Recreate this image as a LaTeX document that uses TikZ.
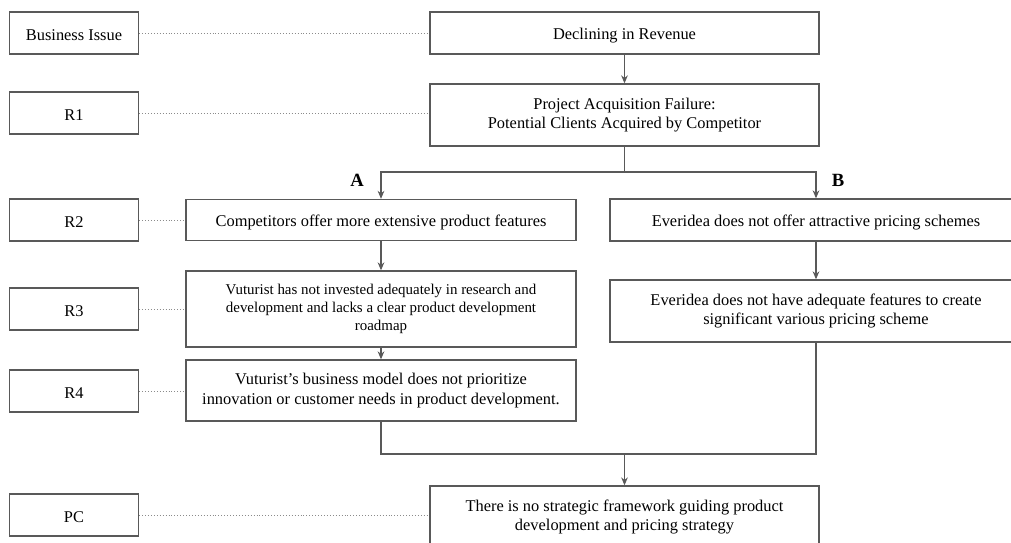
\documentclass[tikz,border=0pt]{standalone}
\usepackage{fontspec}
\setmainfont{Liberation Serif}
\usetikzlibrary{arrows.meta}
\definecolor{ln}{HTML}{595959}
\tikzset{
  box/.style={draw=ln, line width=1pt, fill=white, align=center, inner sep=0pt, font=\fontsize{12.3}{14.5}\selectfont, execute at begin node={\rule{0pt}{0.95em}}},
  lbox/.style={box, minimum width=129*0.75pt, minimum height=42*0.75pt},
  dots/.style={draw=ln!70, line width=0.6pt, dash pattern=on 0.6pt off 1.6pt},
  arr/.style={draw=ln, line width=0.8pt, -{Stealth[length=6pt,width=5pt]}},
  conn/.style={draw=ln, line width=0.8pt},
  lab/.style={font=\fontsize{14}{16}\selectfont\bfseries}
}
\begin{document}
\begin{tikzpicture}[x=0.75pt,y=-0.75pt]
\useasboundingbox (0,0) rectangle (1011,543);
% left labels
\node[lbox] (bi) at (74,33) {Business Issue};
\node[lbox] (r1) at (74,113) {R1};
\node[lbox] (r2) at (74,220) {R2};
\node[lbox] (r3) at (74,309) {R3};
\node[lbox] (r4) at (74,391) {R4};
\node[lbox] (pc) at (74,515) {PC};
% main boxes
\node[box, minimum width=389*0.75pt, minimum height=42*0.75pt] (dec) at (624.5,33) {Declining in Revenue};
\node[box, minimum width=389*0.75pt, minimum height=62*0.75pt] (paf) at (624.5,115) {Project Acquisition Failure:\\Potential Clients Acquired by Competitor};
\node[box, minimum width=390*0.75pt, minimum height=41*0.75pt] (comp) at (381,220) {Competitors offer more extensive product features};
\node[box, minimum width=412*0.75pt, minimum height=42*0.75pt] (ev1) at (816,220) {Everidea does not offer attractive pricing schemes};
\node[box, minimum width=390*0.75pt, minimum height=76*0.75pt, font=\fontsize{11.2}{13.5}\selectfont] (vut) at (381,309) {Vuturist has not invested adequately in research and\\development and lacks a clear product development\\roadmap};
\node[box, minimum width=412*0.75pt, minimum height=62*0.75pt] (ev2) at (816,311) {Everidea does not have adequate features to create\\significant various pricing scheme};
\node[box, minimum width=390*0.75pt, minimum height=61*0.75pt] (bm) at (381,390.5) {Vuturist's business model does not prioritize\\innovation or customer needs in product development.};
\node[box, minimum width=389*0.75pt, minimum height=62*0.75pt] (fw) at (624.5,517) {There is no strategic framework guiding product\\development and pricing strategy};
% dotted links
\draw[dots] (bi.east) -- (dec.west |- bi.east);
\draw[dots] (r1.east) -- (paf.west |- r1.east);
\draw[dots] (r2.east) -- (comp.west |- r2.east);
\draw[dots] (r3.east) -- (vut.west |- r3.east);
\draw[dots] (r4.east) -- (bm.west |- r4.east);
\draw[dots] (pc.east) -- (fw.west |- pc.east);
% arrows
\draw[arr] (dec.south) -- (paf.north);
\coordinate (split) at (624.5,172);
\draw[conn] (paf.south) -- (split);
\draw[arr] (split) -| (comp.north);
\draw[arr] (split) -| (ev1.north);
\node[lab] (la) at (357,180) {A};
\node[lab] (lb) at (838,180) {B};
\draw[arr] (comp.south) -- (vut.north);
\draw[arr] (vut.south) -- (bm.north);
\draw[arr] (ev1.south) -- (ev2.north);
\coordinate (merge) at (624.5,454);
\draw[conn] (bm.south) |- (merge);
\draw[conn] (ev2.south) |- (merge);
\draw[arr] (merge) -- (fw.north);
\end{tikzpicture}
\end{document}
